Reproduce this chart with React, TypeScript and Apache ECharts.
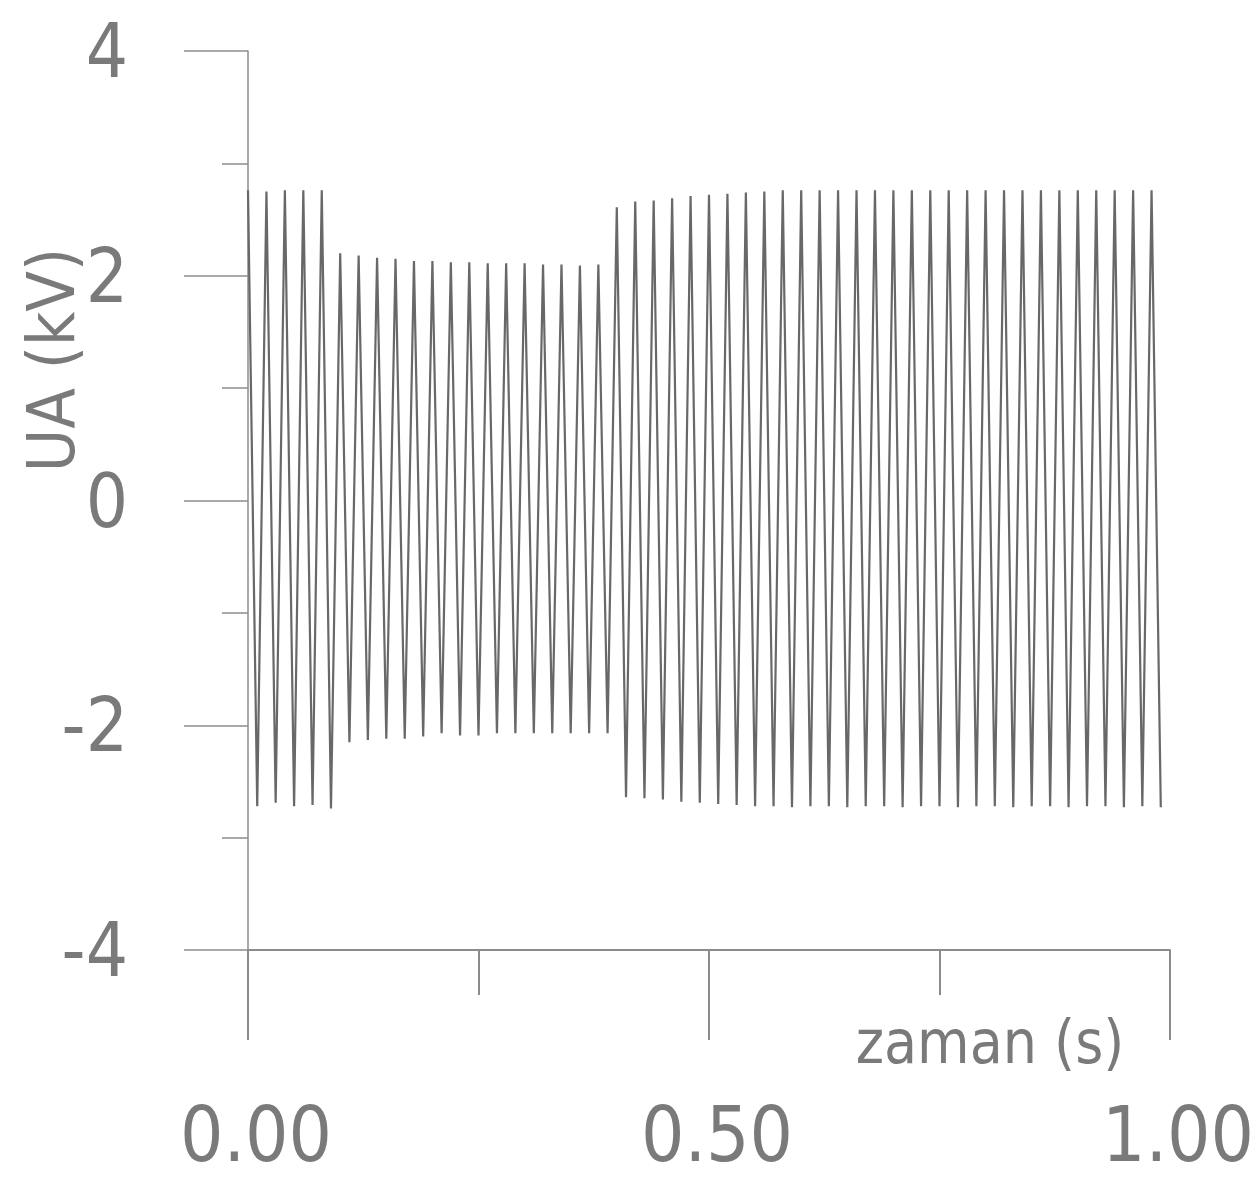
import React, { useEffect, useRef } from "react";
import * as echarts from "echarts";

// Extremes of the UA waveform (kV), one per half cycle (50 Hz → 0.01 s apart)
const HALF_PERIOD_S = 0.01;
const POSITIVE_PEAKS = [
  2.76, 2.75, 2.76, 2.76, 2.76,
  2.2, 2.18, 2.16, 2.15, 2.13, 2.13, 2.12, 2.12, 2.11, 2.11, 2.11, 2.1, 2.1, 2.09, 2.1,
  2.61, 2.66, 2.67, 2.69, 2.71, 2.72, 2.73, 2.74, 2.75, 2.76,
  2.76, 2.76, 2.76, 2.76, 2.76, 2.76, 2.76, 2.76, 2.76, 2.76,
  2.76, 2.76, 2.76, 2.76, 2.76, 2.76, 2.76, 2.76, 2.76, 2.76,
];
const NEGATIVE_PEAKS = [
  -2.72, -2.69, -2.72, -2.71, -2.74,
  -2.15, -2.13, -2.12, -2.12, -2.1, -2.07, -2.09, -2.09, -2.07, -2.07, -2.07, -2.07, -2.07, -2.07, -2.07,
  -2.64, -2.65, -2.66, -2.68, -2.69, -2.7, -2.71, -2.72, -2.72, -2.73,
  -2.72, -2.72, -2.73, -2.72, -2.72, -2.73, -2.72, -2.72, -2.73, -2.72,
  -2.72, -2.73, -2.72, -2.72, -2.73, -2.72, -2.72, -2.73, -2.72, -2.73,
];

const X_TICKS = [0, 0.5, 1];
const Y_TICKS = [-4, -2, 0, 2, 4];
const X_NAME = "zaman (s)";
const Y_NAME = "UA (kV)";

const FONT = '"DejaVu Sans Condensed", "DejaVu Sans", sans-serif';
const TEXT_COLOR = "#7a7a7a";
const AXIS_COLOR = "#8c8c8c";
const WAVE_COLOR = "#686868";

export default function App() {
  const ref = useRef<HTMLDivElement>(null);

  useEffect(() => {
    if (!ref.current) return;
    const chart = echarts.init(ref.current, null, { renderer: "svg" });

    const data: [number, number][] = [];
    POSITIVE_PEAKS.forEach((p, k) => {
      data.push([2 * k * HALF_PERIOD_S, p]);
      data.push([(2 * k + 1) * HALF_PERIOD_S, NEGATIVE_PEAKS[k]]);
    });

    chart.setOption({
      animation: false,
      backgroundColor: "#ffffff",
      grid: {
        left: 248,
        right: 90,
        top: 51,
        bottom: 238,
        containLabel: false,
        outerBoundsMode: "none",
      },
      xAxis: {
        type: "value",
        min: X_TICKS[0],
        max: X_TICKS[X_TICKS.length - 1],
        interval: 0.5,
        name: X_NAME,
        nameLocation: "middle",
        nameGap: 62,
        nameMoveOverlap: false,
        nameTextStyle: {
          fontFamily: FONT,
          fontSize: 60,
          color: TEXT_COLOR,
          padding: [0, 0, 0, 562],
        },
        axisLine: { show: true, onZero: false, lineStyle: { color: AXIS_COLOR, width: 2 } },
        axisTick: { show: true, length: 90, lineStyle: { color: AXIS_COLOR, width: 2 } },
        minorTick: { show: true, splitNumber: 2, length: 45, lineStyle: { color: AXIS_COLOR, width: 2 } },
        splitLine: { show: false },
        axisLabel: {
          margin: 146,
          fontFamily: FONT,
          fontSize: 76,
          color: TEXT_COLOR,
          padding: [0, 0, 0, 16],
          formatter: (v: number) => v.toFixed(2),
        },
      },
      yAxis: {
        type: "value",
        min: Y_TICKS[0],
        max: Y_TICKS[Y_TICKS.length - 1],
        interval: 2,
        name: Y_NAME,
        nameLocation: "middle",
        nameRotate: 90,
        nameGap: 164,
        nameMoveOverlap: false,
        nameTextStyle: {
          fontFamily: FONT,
          fontSize: 66,
          color: TEXT_COLOR,
          padding: [0, 0, 0, 281],
        },
        axisLine: { show: true, onZero: false, lineStyle: { color: AXIS_COLOR, width: 1.5 } },
        axisTick: { show: true, length: 64, lineStyle: { color: AXIS_COLOR, width: 1.5 } },
        minorTick: { show: true, splitNumber: 2, length: 26, lineStyle: { color: AXIS_COLOR, width: 1.5 } },
        splitLine: { show: false },
        axisLabel: {
          margin: 120,
          fontFamily: FONT,
          fontSize: 74,
          color: TEXT_COLOR,
          formatter: (v: number) => String(v),
        },
      },
      series: [
        {
          type: "line",
          data,
          showSymbol: false,
          symbol: "none",
          lineStyle: { color: WAVE_COLOR, width: 2.2 },
          clip: false,
        },
      ],
    });

    return () => chart.dispose();
  }, []);

  return (
    <div
      ref={ref}
      style={{ position: "absolute", left: 0, top: 0, width: 1260, height: 1188, background: "#fff" }}
    />
  );
}
